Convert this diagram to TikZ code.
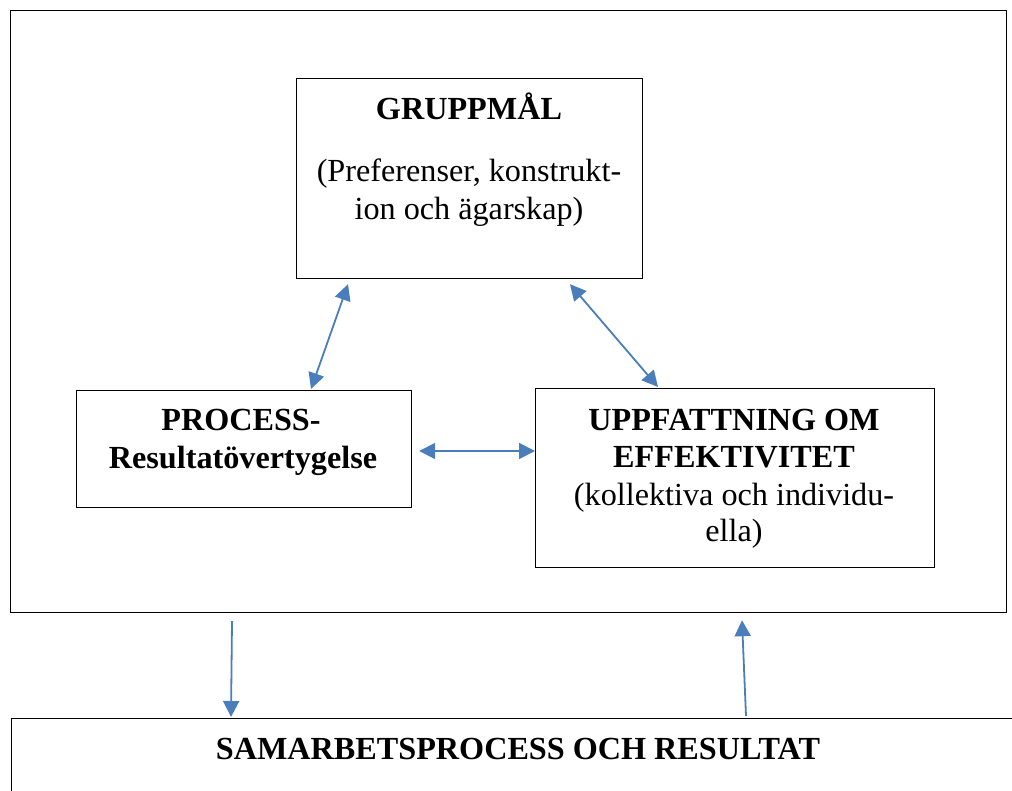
\documentclass[tikz,border=0pt]{standalone}
\usepackage{fontspec}
\setmainfont{Liberation Serif}
\usetikzlibrary{arrows.meta,calc}
\definecolor{arrowblue}{RGB}{74,126,187}
\tikzset{
  box/.style={draw=black, line width=1.2pt, anchor=north west, inner sep=0pt},
  txt/.style={font=\fontsize{32.2}{38}\selectfont, anchor=base, inner sep=0pt},
  btxt/.style={font=\fontsize{32.2}{38}\selectfont\bfseries, anchor=base, inner sep=0pt},
  link/.style={draw=arrowblue, line width=1.8pt, {Triangle[length=16pt,width=16pt]}-{Triangle[length=16pt,width=16pt]}},
  onelink/.style={draw=arrowblue, line width=1.8pt, -{Triangle[length=16pt,width=16pt]}}
}
\begin{document}
\begin{tikzpicture}[x=1pt,y=-1pt]
\useasboundingbox (0,0) rectangle (1012,791);
\clip (0,0) rectangle (1012,791);
% outer frame
\node (outer) [box, minimum width=996pt, minimum height=602pt] at (10,10) {};
% boxes
\node (g) [box, minimum width=346pt, minimum height=200pt] at (296,78) {};
\node (p) [box, minimum width=335pt, minimum height=117pt] at (76,390) {};
\node (u) [box, minimum width=399pt, minimum height=179pt] at (535,388) {};
\node (s) [box, minimum width=1030pt, minimum height=120pt] at (11,718) {};
% texts
\node (gt1) [btxt] at (469,120) {GRUPPMÅL};
\node (gt2) [txt] at (469,182) {(Preferenser, konstrukt-};
\node (gt3) [txt] at (469,220) {ion och ägarskap)};
\node (pt1) [btxt] at (241,430) {PROCESS-};
\node (pt2) [btxt] at (243,468) {Resultatövertygelse};
\node (ut1) [btxt] at (734,430) {UPPFATTNING OM};
\node (ut2) [btxt] at (734,467) {EFFEKTIVITET};
\node (ut3) [txt] at (734,505) {(kollektiva och individu-};
\node (ut4) [txt] at (734,541) {ella)};
\node (st) [btxt] at (518,759) {SAMARBETSPROCESS OCH RESULTAT};
% connectors
\coordinate (a1) at ($(g.south west)+(52,5)$);
\coordinate (a2) at ($(p.north west)+(235,-1)$);
\draw[link] (a1) -- (a2);
\coordinate (b1) at ($(g.south west)+(274,5)$);
\coordinate (b2) at ($(u.north west)+(123,-1)$);
\draw[link] (b1) -- (b2);
\coordinate (c1) at ($(p.north east)+(7,61)$);
\coordinate (c2) at ($(u.north west)+(0,63)$);
\draw[link] (c1) -- (c2);
\coordinate (d1) at ($(outer.south west)+(222,8)$);
\coordinate (d2) at ($(s.north west)+(220,-1)$);
\draw[onelink] (d1) -- (d2);
\coordinate (e1) at ($(s.north west)+(735,-2)$);
\coordinate (e2) at ($(outer.south west)+(732,7)$);
\draw[onelink] (e1) -- (e2);
\end{tikzpicture}
\end{document}
